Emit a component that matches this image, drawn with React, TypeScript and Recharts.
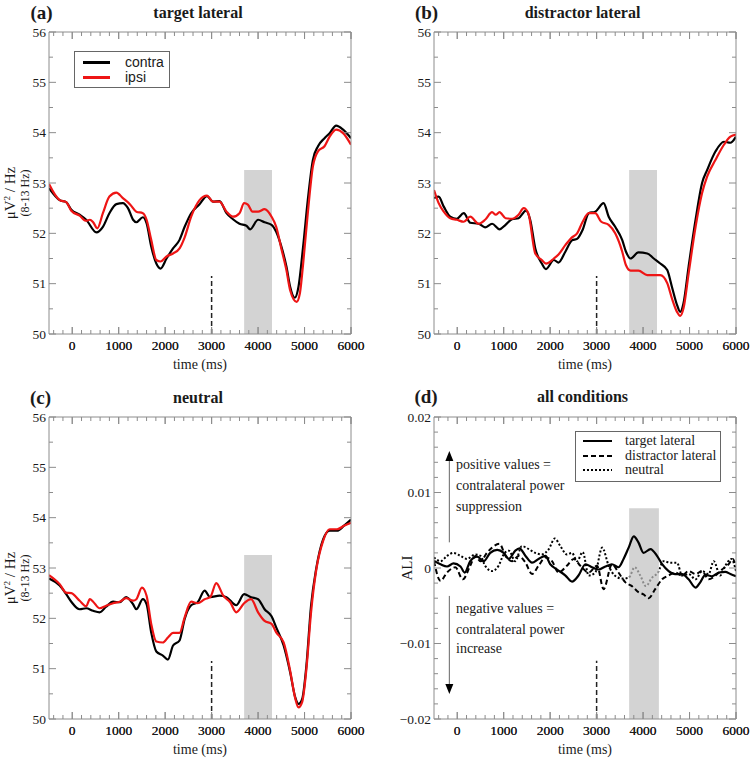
import React from 'react';
import {
  LineChart,
  Line,
  XAxis,
  YAxis,
  ReferenceArea,
  ReferenceLine,
  ReferenceDot,
  Legend
} from 'recharts';

// tick labels
const timeTicks = [0, 1000, 2000, 3000, 4000, 5000, 6000];
const powerTicks = [50, 51, 52, 53, 54, 55, 56];
const aliTicks = [-0.02, -0.01, 0, 0.01, 0.02];

// alpha power (µV²/Hz), [time ms, value]
const targetContra = [
  [-500, 52.9], [-270, 52.66], [-130, 52.62], [-20, 52.47], [160, 52.37], [300, 52.27], [520, 52.02],
  [660, 52.13], [800, 52.4], [950, 52.58], [1090, 52.6], [1200, 52.5], [1310, 52.27], [1380, 52.22],
  [1520, 52.32], [1600, 52.2], [1700, 51.74], [1810, 51.4], [1900, 51.3], [2030, 51.5], [2170, 51.7],
  [2310, 51.87], [2420, 52.13], [2560, 52.4], [2740, 52.58], [2900, 52.74], [3030, 52.63], [3170, 52.64],
  [3320, 52.4], [3460, 52.28], [3600, 52.19], [3750, 52.15], [3830, 52.08], [4000, 52.27], [4140, 52.22],
  [4290, 52.17], [4390, 52.03], [4500, 51.74], [4610, 51.34], [4690, 50.94], [4790, 50.72], [4870, 50.94],
  [4970, 51.74], [5070, 52.66], [5180, 53.46], [5290, 53.73], [5430, 53.89], [5540, 53.99], [5680, 54.14],
  [5830, 54.06], [6000, 53.89]
];
const targetIpsi = [
  [-500, 52.98], [-270, 52.66], [-130, 52.62], [-20, 52.45], [160, 52.35], [300, 52.25], [380, 52.27],
  [450, 52.22], [540, 52.1], [660, 52.4], [800, 52.73], [950, 52.81], [1090, 52.7], [1250, 52.57],
  [1380, 52.43], [1520, 52.4], [1600, 52.27], [1700, 51.87], [1810, 51.47], [1900, 51.44], [2030, 51.54],
  [2170, 51.6], [2310, 51.7], [2420, 51.92], [2560, 52.33], [2740, 52.66], [2900, 52.75], [3030, 52.63],
  [3170, 52.63], [3320, 52.43], [3460, 52.33], [3600, 52.4], [3700, 52.6], [3780, 52.57], [3880, 52.43],
  [4000, 52.43], [4140, 52.48], [4290, 52.33], [4390, 52.13], [4500, 51.7], [4610, 51.27], [4690, 50.87],
  [4830, 50.64], [4900, 50.81], [4970, 51.4], [5070, 52.4], [5180, 53.33], [5290, 53.63], [5430, 53.73],
  [5540, 53.92], [5680, 54.06], [5830, 53.99], [6000, 53.76]
];
const distractorContra = [
  [-500, 52.7], [-400, 52.73], [-290, 52.53], [-150, 52.33], [-10, 52.29], [140, 52.4], [280, 52.21],
  [460, 52.19], [600, 52.12], [750, 52.19], [910, 52.08], [1040, 52.17], [1180, 52.28], [1320, 52.3],
  [1480, 52.45], [1570, 52.27], [1680, 51.7], [1820, 51.4], [1910, 51.29], [2080, 51.47], [2180, 51.42],
  [2330, 51.64], [2470, 51.86], [2580, 51.89], [2700, 52.07], [2830, 52.4], [2970, 52.43], [3150, 52.6],
  [3260, 52.33], [3400, 52.13], [3550, 51.87], [3630, 51.64], [3730, 51.5], [3900, 51.62], [4090, 51.6],
  [4230, 51.5], [4370, 51.4], [4520, 51.27], [4620, 50.94], [4730, 50.58], [4800, 50.44], [4870, 50.61],
  [4980, 51.34], [5130, 52.27], [5270, 53.0], [5380, 53.26], [5560, 53.63], [5740, 53.82], [5880, 53.8],
  [6000, 53.92]
];
const distractorIpsi = [
  [-500, 52.86], [-400, 52.6], [-290, 52.43], [-150, 52.3], [-10, 52.27], [140, 52.23], [280, 52.33],
  [460, 52.19], [600, 52.27], [750, 52.42], [830, 52.37], [910, 52.42], [1040, 52.3], [1180, 52.29],
  [1320, 52.37], [1430, 52.5], [1530, 52.4], [1680, 51.6], [1820, 51.47], [1910, 51.4], [2080, 51.5],
  [2180, 51.58], [2330, 51.77], [2470, 51.92], [2580, 52.0], [2700, 52.23], [2830, 52.4], [2970, 52.4],
  [3100, 52.23], [3260, 52.17], [3400, 52.0], [3550, 51.64], [3630, 51.37], [3730, 51.26], [3900, 51.26],
  [4090, 51.17], [4230, 51.17], [4370, 51.17], [4520, 51.01], [4620, 50.71], [4730, 50.44], [4800, 50.36],
  [4870, 50.51], [4980, 51.2], [5130, 52.13], [5270, 52.8], [5380, 53.13], [5560, 53.46], [5740, 53.76],
  [5880, 53.92], [6000, 53.96]
];
const neutralContra = [
  [-500, 52.79], [-270, 52.65], [-130, 52.48], [-20, 52.33], [160, 52.18], [300, 52.2], [450, 52.15],
  [590, 52.12], [730, 52.23], [880, 52.33], [1020, 52.32], [1160, 52.42], [1310, 52.28], [1380, 52.18],
  [1520, 52.38], [1600, 52.28], [1700, 51.72], [1810, 51.34], [1950, 51.26], [2060, 51.18], [2170, 51.46],
  [2310, 51.56], [2420, 51.99], [2560, 52.26], [2700, 52.32], [2850, 52.55], [2970, 52.42], [3170, 52.45],
  [3320, 52.42], [3530, 52.26], [3700, 52.48], [3850, 52.42], [4000, 52.38], [4140, 52.18], [4290, 52.04],
  [4390, 51.82], [4550, 51.46], [4690, 50.93], [4800, 50.43], [4870, 50.3], [4950, 50.4], [5040, 51.06],
  [5140, 52.25], [5250, 52.98], [5400, 53.57], [5540, 53.74], [5700, 53.74], [5850, 53.84], [6000, 53.96]
];
const neutralIpsi = [
  [-500, 52.86], [-270, 52.68], [-130, 52.51], [-20, 52.5], [160, 52.35], [300, 52.24], [380, 52.38],
  [450, 52.33], [590, 52.2], [730, 52.25], [880, 52.3], [1020, 52.33], [1160, 52.4], [1310, 52.35],
  [1380, 52.38], [1500, 52.61], [1600, 52.45], [1700, 51.89], [1810, 51.54], [1950, 51.52], [2060, 51.62],
  [2170, 51.71], [2310, 51.71], [2420, 52.02], [2560, 52.33], [2700, 52.3], [2850, 52.38], [2970, 52.42],
  [3100, 52.7], [3250, 52.45], [3400, 52.32], [3530, 52.12], [3700, 52.3], [3850, 52.38], [4000, 52.12],
  [4140, 51.95], [4290, 51.89], [4390, 51.72], [4550, 51.52], [4690, 50.96], [4800, 50.41], [4870, 50.23],
  [4950, 50.34], [5040, 50.99], [5140, 52.12], [5250, 52.95], [5400, 53.54], [5540, 53.77], [5700, 53.77],
  [5850, 53.84], [6000, 53.9]
];

// lateralization index, [time ms, value]
const aliTarget = [
  [-500, 0.00095], [-360, 0.0005], [-220, 0.0002], [-80, 0.0006], [70, 0.0002], [160, -0.0006], [280, 0.0009],
  [430, 0.0015], [570, 0.0009], [710, 0.002], [860, 0.0024], [1000, 0.002], [1110, 0.0012], [1250, 0.0023],
  [1340, 0.0026], [1470, 0.0016], [1610, 0.0007], [1750, 0.0012], [1900, 0.0016], [2000, 0.0005],
  [2150, -0.0002], [2330, -0.001], [2470, -0.0018], [2610, -0.001], [2760, 0.0005], [2900, 0.0001],
  [3040, -0.0002], [3190, 0.0002], [3330, 0.0005], [3470, 0.0001], [3580, 0.0012], [3690, 0.0027],
  [3800, 0.0042], [3900, 0.0034], [4010, 0.002], [4160, 0.0025], [4300, 0.0016], [4410, 0.0005],
  [4550, -0.0004], [4690, -0.0008], [4840, -0.0008], [4980, -0.0015], [5130, -0.0026], [5230, -0.0019],
  [5340, -0.0009], [5480, -0.0011], [5630, -0.0006], [5770, -0.0005], [5880, -0.0008], [6000, -0.0011]
];
const aliDistractor = [
  [-500, 0.0009], [-360, -0.0017], [-220, -0.0006], [-40, 0.0001], [120, -0.0015], [280, 0.0003],
  [390, 0.0016], [500, 0.0009], [640, 0.002], [750, 0.0027], [910, 0.0032], [1040, 0.0016], [1180, 0.0009],
  [1320, 0.0016], [1470, 0.0007], [1610, -0.0008], [1750, 0.0003], [1900, 0.0014], [2040, 0.0009],
  [2180, -0.0006], [2360, 0.0003], [2510, 0.0012], [2650, 0.0003], [2830, -0.0006], [3010, 0.0003],
  [3150, -0.0028], [3330, 0.0005], [3470, -0.0006], [3620, -0.0019], [3760, -0.0024], [3900, -0.0032],
  [4010, -0.0035], [4120, -0.004], [4260, -0.0028], [4410, -0.0015], [4550, -0.001], [4690, -0.0006],
  [4840, -0.001], [4980, -0.0004], [5130, -0.0008], [5270, -0.0004], [5410, -0.0015], [5560, -0.001],
  [5700, -0.0002], [5840, 0.0005], [5930, 0.0012], [6000, 0.0001]
];
const aliNeutral = [
  [-500, 0.0014], [-360, 0.0009], [-220, 0.0016], [-80, 0.002], [70, 0.0016], [210, 0.0012], [390, 0.0018],
  [500, 0.0016], [600, 0.0003], [750, -0.0004], [890, 0.0003], [1000, 0.0018], [1110, 0.0023],
  [1250, 0.0009], [1390, 0.0029], [1540, 0.0025], [1680, 0.002], [1820, 0.0018], [1970, 0.0025],
  [2100, 0.0039], [2220, 0.0029], [2360, 0.0018], [2470, 0.002], [2580, 0.0009], [2700, 0.0021],
  [2830, -0.001], [2970, -0.0006], [3120, 0.0027], [3260, 0.0003], [3390, -0.001], [3550, -0.0014],
  [3690, -0.0013], [3820, 0.0001], [3940, -0.001], [4060, -0.0024], [4190, -0.0013], [4320, -0.0006],
  [4440, 0.0009], [4590, 0.0007], [4730, 0.0007], [4840, -0.001], [4980, -0.0008], [5130, -0.0015],
  [5270, -0.0004], [5410, -0.0008], [5520, 0.0009], [5660, -0.001], [5770, 0.0003], [5900, 0.0012],
  [6000, -0.0004]
];

// legend order as printed
const powerNames = ['contra', 'ipsi'];
const conditionNames = ['target lateral', 'distractor lateral', 'neutral'];

const SERIF = '"Liberation Serif", "Times New Roman", serif';
const SANS = '"Liberation Sans", Arial, sans-serif';
const FRAME = '#8c8c8c';
const INK = '#1a1a1a';
const RED = '#ee1515';
const BAND = '#d3d3d3';

const toPts = (arr: number[][]) => arr.map(([t, v]) => ({ t, v }));

// minor tick positions (label-less)
const range = (from: number, to: number, step: number) => {
  const out: number[] = [];
  for (let i = 0; from + i * step <= to + step / 1000; i++) out.push(Math.round((from + i * step) * 1e6) / 1e6);
  return out;
};
const timeMinor = range(-400, 6000, 200);
const powerMinor = range(50, 56, 0.5);
const aliMinor = range(-0.02, 0.02, 0.002);
const timeAll = [...timeMinor, ...timeTicks].sort((a, b) => a - b);

const near = (v: number, list: number[]) => list.some((m) => Math.abs(m - v) < 1e-9);

const makeTick = (side: string, majors: number[], fmt?: (v: number) => string) => (p: any) => {
  const v = p.payload.value;
  const major = near(v, majors);
  const len = major ? 7 : 4;
  let tickLine = null;
  if (side === 'bottom') tickLine = <line x1={p.x} x2={p.x} y1={p.y} y2={p.y - len} stroke={FRAME} />;
  if (side === 'top') tickLine = <line x1={p.x} x2={p.x} y1={p.y} y2={p.y + len} stroke={FRAME} />;
  if (side === 'left') tickLine = <line x1={p.x} x2={p.x + len} y1={p.y} y2={p.y} stroke={FRAME} />;
  if (side === 'right') tickLine = <line x1={p.x} x2={p.x - len} y1={p.y} y2={p.y} stroke={FRAME} />;
  let label = null;
  if (fmt && major && side === 'bottom') {
    label = (
      <text x={p.x} y={p.y + 16} textAnchor="middle" fill={INK} fontFamily={SERIF} fontSize={13.5}>
        {fmt(v)}
      </text>
    );
  }
  if (fmt && major && side === 'left') {
    label = (
      <text x={p.x - 3} y={p.y + 4.5} textAnchor="end" fill={INK} fontFamily={SERIF} fontSize={13.5}>
        {fmt(v)}
      </text>
    );
  }
  return <g>{tickLine}{label}</g>;
};

const fmtInt = (v: number) => String(v);
const fmtAli = (v: number) => (v === 0 ? '0' : (v < 0 ? '\u2212' : '') + Math.abs(v).toFixed(2));

const timeLabel = (props: any) => {
  const vb = props.viewBox;
  return (
    <text x={vb.x + vb.width / 2} y={vb.y + 35} textAnchor="middle" fill={INK} fontFamily={SERIF} fontSize={14}>
      time (ms)
    </text>
  );
};

const powerLabel = (props: any) => {
  const vb = props.viewBox;
  const cy = vb.y + vb.height / 2 + 10;
  return (
    <g>
      <text transform={`translate(10, ${cy}) rotate(-90)`} textAnchor="middle" dy="0.35em" fill={INK} fontFamily={SERIF} fontSize={15}>
        μV<tspan dy={-5} fontSize={9}>2</tspan><tspan dy={5}> / Hz</tspan>
      </text>
      <text transform={`translate(25, ${cy}) rotate(-90)`} textAnchor="middle" dy="0.35em" fill={INK} fontFamily={SERIF} fontSize={12}>
        (8-13 Hz)
      </text>
    </g>
  );
};

const aliLabel = (props: any) => {
  const vb = props.viewBox;
  const cy = vb.y + vb.height / 2;
  return (
    <text transform={`translate(32, ${cy}) rotate(-90)`} textAnchor="middle" dy="0.35em" fill={INK} fontFamily={SERIF} fontSize={15}>
      ALI
    </text>
  );
};

const Caption = ({ x, y, bold, size, children, anchor = 'center' }: any) => (
  <div
    style={{
      position: 'absolute',
      left: x,
      top: y,
      transform: anchor === 'center' ? 'translate(-50%, -50%)' : 'translate(0, -50%)',
      fontFamily: SERIF,
      fontWeight: bold ? 700 : 400,
      fontSize: size,
      color: INK,
      whiteSpace: 'nowrap',
      lineHeight: 1
    }}
  >
    {children}
  </div>
);

const ordered = (payload: any[], names: string[]) =>
  names.map((n) => (payload || []).find((e: any) => e.value === n)).filter(Boolean);

const contraIpsiLegend = (props: any) => (
  <div style={{ position: 'relative', width: 96, height: 37, border: '1px solid #666', boxSizing: 'border-box', background: '#fff' }}>
    {ordered(props.payload, powerNames).map((e: any, i: number) => (
      <div key={e.value} style={{ position: 'absolute', left: 0, top: 10 + i * 15 - 7, height: 14, width: 94 }}>
        <div style={{ position: 'absolute', left: 8, top: 6, width: 27, height: 2.5, background: e.color }} />
        <span style={{ position: 'absolute', left: 50, top: -1, fontFamily: SANS, fontSize: 14, color: INK }}>{e.value}</span>
      </div>
    ))}
  </div>
);

const aliDash: Record<string, string | undefined> = {
  'target lateral': undefined,
  'distractor lateral': '5 3',
  neutral: '2 2'
};

const conditionLegend = (props: any) => (
  <div style={{ position: 'relative', width: 146, height: 51, border: '1px solid #666', boxSizing: 'border-box', background: '#fff' }}>
    {ordered(props.payload, conditionNames).map((e: any, i: number) => (
      <div key={e.value} style={{ position: 'absolute', left: 0, top: 9 + i * 14.7 - 7, height: 14, width: 144 }}>
        <svg style={{ position: 'absolute', left: 7, top: 5 }} width={29} height={4}>
          <line x1={0} x2={29} y1={2} y2={2} stroke="#000" strokeWidth={2} strokeDasharray={aliDash[e.value]} />
        </svg>
        <span style={{ position: 'absolute', left: 49, top: -1, fontFamily: SERIF, fontSize: 14, color: INK }}>{e.value}</span>
      </div>
    ))}
  </div>
);

const frameAxes = (axisW: number, topH: number, yDomain: number[], yAll: number[], yMajor: number[], yFmt: (v: number) => string, yLabel: any) => {
  const rightW = 375 - axisW - 302;
  const bottomH = 379 - topH - 302;
  return [
    <XAxis
      key="xb"
      dataKey="t"
      type="number"
      domain={[-500, 6000]}
      allowDataOverflow
      ticks={timeAll}
      interval={0}
      tickSize={0}
      tickMargin={0}
      tickLine={false}
      height={bottomH}
      axisLine={{ stroke: FRAME }}
      tick={makeTick('bottom', timeTicks, fmtInt)}
      label={timeLabel}
    />,
    <XAxis
      key="xt"
      xAxisId="top"
      orientation="top"
      dataKey="t"
      type="number"
      domain={[-500, 6000]}
      allowDataOverflow
      ticks={timeAll}
      interval={0}
      tickSize={0}
      tickMargin={0}
      tickLine={false}
      height={topH}
      axisLine={{ stroke: FRAME }}
      tick={makeTick('top', timeTicks)}
    />,
    <YAxis
      key="yl"
      type="number"
      domain={yDomain}
      allowDataOverflow
      ticks={yAll}
      interval={0}
      tickSize={0}
      tickMargin={0}
      tickLine={false}
      width={axisW}
      axisLine={{ stroke: FRAME }}
      tick={makeTick('left', yMajor, yFmt)}
      label={yLabel}
    />,
    <YAxis
      key="yr"
      yAxisId="right"
      orientation="right"
      type="number"
      domain={yDomain}
      allowDataOverflow
      ticks={yAll}
      interval={0}
      tickSize={0}
      tickMargin={0}
      tickLine={false}
      width={rightW}
      axisLine={{ stroke: FRAME }}
      tick={makeTick('right', yMajor)}
    />
  ];
};

interface PowerPanelProps {
  left: number;
  top: number;
  axisW: number;
  topH: number;
  contra: number[][];
  ipsi: number[][];
  yLabel?: boolean;
  legend?: boolean;
}

const PowerPanel: React.FC<PowerPanelProps> = ({ left, top, axisW, topH, contra, ipsi, yLabel, legend }) => (
  <div style={{ position: 'absolute', left, top }}>
    <LineChart width={375} height={379} margin={{ top: 0, right: 0, bottom: 0, left: 0 }}>
      {frameAxes(axisW, topH, [50, 56], powerMinor, powerTicks, fmtInt, yLabel ? powerLabel : undefined)}
      <ReferenceArea x1={3700} x2={4300} y1={50} y2={53.26} fill={BAND} fillOpacity={1} stroke="none" />
      <ReferenceLine segment={[{ x: 3000, y: 50 }, { x: 3000, y: 51.15 }]} stroke="#222" strokeWidth={1.5} strokeDasharray="5 3" />
      <Line data={toPts(contra)} dataKey="v" name="contra" type="monotone" stroke="#000" strokeWidth={2.2} dot={false} isAnimationActive={false} />
      <Line data={toPts(ipsi)} dataKey="v" name="ipsi" type="monotone" stroke={RED} strokeWidth={2.2} dot={false} isAnimationActive={false} />
      {legend && (
        <Legend
          verticalAlign="middle"
          align="center"
          content={contraIpsiLegend}
          wrapperStyle={{ left: 74, top: 51, width: 96, height: 37 }}
        />
      )}
    </LineChart>
  </div>
);

const AliPanel: React.FC<{ left: number; top: number }> = ({ left, top }) => {
  const bandFrom = (3700 + 500) / 6500;
  const bandTo = (4340 + 500) / 6500;
  const arrowUp = (p: any) => <path d={`M${p.cx},${p.cy} l-4,10 l8,0 z`} fill="#000" />;
  const arrowDown = (p: any) => <path d={`M${p.cx},${p.cy} l-4,-10 l8,0 z`} fill="#000" />;
  return (
    <div style={{ position: 'absolute', left, top }}>
      <LineChart width={375} height={379} margin={{ top: 0, right: 0, bottom: 0, left: 0 }}>
        <defs>
          <linearGradient id="neutralBand" x1="0" y1="0" x2="1" y2="0">
            <stop offset={0} stopColor="#000" />
            <stop offset={bandFrom} stopColor="#000" />
            <stop offset={bandFrom} stopColor="#8a8a8a" />
            <stop offset={bandTo} stopColor="#8a8a8a" />
            <stop offset={bandTo} stopColor="#000" />
            <stop offset={1} stopColor="#000" />
          </linearGradient>
        </defs>
        {frameAxes(59, 38, [-0.02, 0.02], aliMinor, aliTicks, fmtAli, aliLabel)}
        <ReferenceArea x1={3700} x2={4340} y1={-0.02} y2={0.0079} fill={BAND} fillOpacity={1} stroke="none" />
        <ReferenceLine segment={[{ x: 3000, y: -0.02 }, { x: 3000, y: -0.0123 }]} stroke="#222" strokeWidth={1.5} strokeDasharray="5 3" />
        <ReferenceLine segment={[{ x: -170, y: 0.0034 }, { x: -170, y: 0.0145 }]} stroke="#666" strokeWidth={1} />
        <ReferenceLine segment={[{ x: -170, y: -0.0037 }, { x: -170, y: -0.0157 }]} stroke="#666" strokeWidth={1} />
        <ReferenceDot x={-170} y={0.0155} r={4} shape={arrowUp} />
        <ReferenceDot x={-170} y={-0.0167} r={4} shape={arrowDown} />
        <Line data={toPts(aliTarget)} dataKey="v" name="target lateral" type="monotone" stroke="#000" strokeWidth={2.2} dot={false} isAnimationActive={false} />
        <Line data={toPts(aliDistractor)} dataKey="v" name="distractor lateral" type="monotone" stroke="#000" strokeWidth={2} strokeDasharray="5 3" dot={false} isAnimationActive={false} />
        <Line data={toPts(aliNeutral)} dataKey="v" name="neutral" type="monotone" stroke="url(#neutralBand)" strokeWidth={2} strokeDasharray="2 2" dot={false} isAnimationActive={false} />
        <Legend
          verticalAlign="middle"
          align="center"
          content={conditionLegend}
          wrapperStyle={{ left: 200, top: 52, width: 146, height: 51 }}
        />
      </LineChart>
    </div>
  );
};

export default function App() {
  return (
    <div style={{ position: 'absolute', left: 0, top: 0, width: 750, height: 758, background: '#fff', overflow: 'hidden' }}>
      <PowerPanel left={0} top={0} axisW={49} topH={32} contra={targetContra} ipsi={targetIpsi} yLabel legend />
      <PowerPanel left={375} top={0} axisW={59} topH={32} contra={distractorContra} ipsi={distractorIpsi} />
      <PowerPanel left={0} top={379} axisW={49} topH={38} contra={neutralContra} ipsi={neutralIpsi} yLabel />
      <AliPanel left={375} top={379} />

      <Caption x={41.5} y={12} bold size={19}>(a)</Caption>
      <Caption x={198} y={13} bold size={16}>target lateral</Caption>
      <Caption x={426.5} y={12} bold size={19}>(b)</Caption>
      <Caption x={582.5} y={13} bold size={16}>distractor lateral</Caption>
      <Caption x={40.5} y={397} bold size={19}>(c)</Caption>
      <Caption x={198} y={398} bold size={16}>neutral</Caption>
      <Caption x={426} y={396} bold size={19}>(d)</Caption>
      <Caption x={582.5} y={397} bold size={16}>all conditions</Caption>

      <Caption x={456} y={465} size={14} anchor="left">positive values =</Caption>
      <Caption x={456} y={486} size={14} anchor="left">contralateral power</Caption>
      <Caption x={456} y={507} size={14} anchor="left">suppression</Caption>
      <Caption x={456} y={609} size={14} anchor="left">negative values =</Caption>
      <Caption x={456} y={630} size={14} anchor="left">contralateral power</Caption>
      <Caption x={456} y={649} size={14} anchor="left">increase</Caption>
    </div>
  );
}
